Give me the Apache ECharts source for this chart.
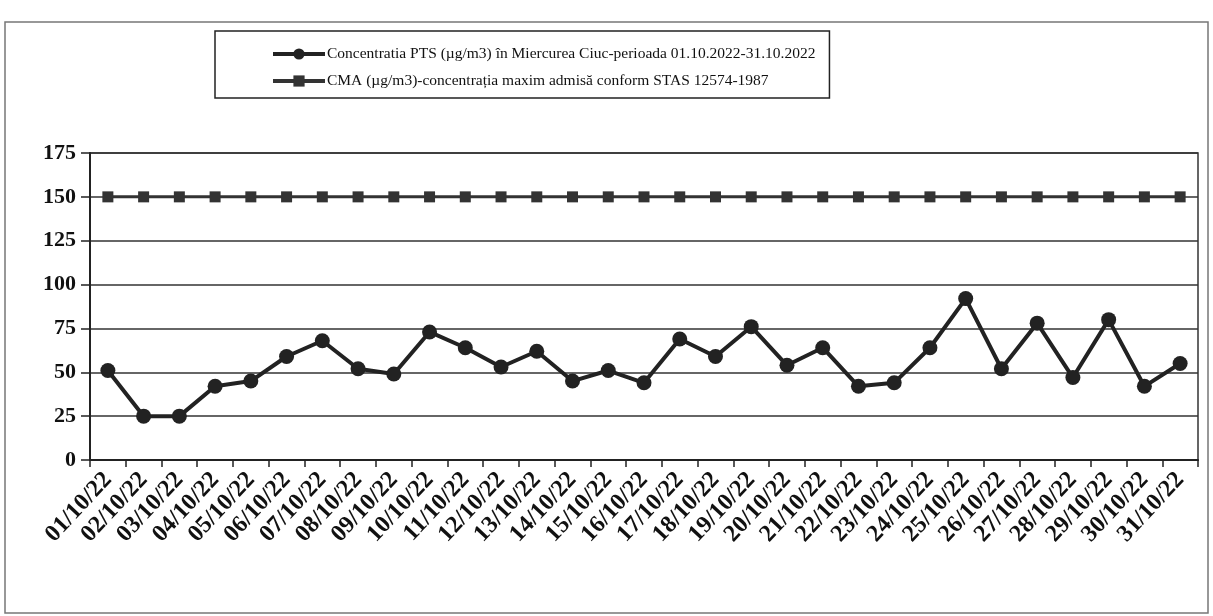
<!DOCTYPE html>
<html>
<head>
<meta charset="utf-8">
<script src="https://cdn.jsdelivr.net/npm/echarts@6/dist/echarts.min.js"></script>
<style>html,body{margin:0;padding:0;background:#fff}#c{width:1213px;height:616px}</style>
</head>
<body>
<div id="c"></div>
<script>
const categories = ["01/10/22","02/10/22","03/10/22","04/10/22","05/10/22","06/10/22","07/10/22","08/10/22","09/10/22","10/10/22","11/10/22","12/10/22","13/10/22","14/10/22","15/10/22","16/10/22","17/10/22","18/10/22","19/10/22","20/10/22","21/10/22","22/10/22","23/10/22","24/10/22","25/10/22","26/10/22","27/10/22","28/10/22","29/10/22","30/10/22","31/10/22"];
const ptsValues = [51,25,25,42,45,59,68,52,49,73,64,53,62,45,51,44,69,59,76,54,64,42,44,64,92,52,78,47,80,42,55];
const cmaValues = [150,150,150,150,150,150,150,150,150,150,150,150,150,150,150,150,150,150,150,150,150,150,150,150,150,150,150,150,150,150,150];
const yTicks = [0,25,50,75,100,125,150,175];
const seriesNames = ["Concentratia PTS (µg/m3) în Miercurea Ciuc-perioada 01.10.2022-31.10.2022","CMA (µg/m3)-concentrația maxim admisă conform STAS 12574-1987"];

const chart = echarts.init(document.getElementById('c'));
const serif = '"Liberation Serif","DejaVu Serif",serif';
chart.setOption({
  animation: false,
  backgroundColor: '#fff',
  graphic: [{
    type: 'rect', shape: {x: 5, y: 22, width: 1203, height: 591},
    style: {fill: 'none', stroke: '#777', lineWidth: 1.5}, silent: true, z: -1
  }],
  legend: {
    orient: 'vertical', left: 215, top: 31,
    padding: [15, 14, 9, 56],
    itemGap: 11, itemWidth: 52, itemHeight: 14,
    borderColor: '#222', borderWidth: 1.5,
    lineStyle: {width: 4},
    textStyle: {fontFamily: serif, fontSize: 15.5, color: '#111', padding: [0, 0, 0, -3]},
    data: seriesNames
  },
  grid: {left: 90, right: 15, top: 153, bottom: 156, containLabel: false,
    show: true, borderColor: '#333', borderWidth: 1.5},
  xAxis: {
    type: 'category', data: categories, boundaryGap: true,
    axisLine: {lineStyle: {color: '#222', width: 2}},
    axisTick: {show: true, alignWithLabel: false, length: 7, lineStyle: {color: '#222', width: 1.5}},
    axisLabel: {rotate: 47, interval: 0, fontFamily: serif, fontWeight: 'bold', fontSize: 24, color: '#111', margin: 16}
  },
  yAxis: {
    type: 'value', min: 0, max: 175, interval: 25,
    axisLine: {show: true, lineStyle: {color: '#222', width: 2}},
    axisTick: {show: true, length: 9, lineStyle: {color: '#222', width: 1.5}},
    axisLabel: {fontFamily: serif, fontWeight: 'bold', fontSize: 22, color: '#111', margin: 14,
      formatter: v => yTicks.includes(v) ? String(v) : ''},
    splitLine: {show: true, lineStyle: {color: '#333', width: 1.5}}
  },
  series: [
    {
      name: seriesNames[0], type: 'line', data: ptsValues,
      symbol: 'circle', symbolSize: 15,
      lineStyle: {color: '#222', width: 4},
      itemStyle: {color: '#222'}
    },
    {
      name: seriesNames[1], type: 'line', data: cmaValues,
      symbol: 'rect', symbolSize: 11,
      lineStyle: {color: '#333', width: 3},
      itemStyle: {color: '#333'}
    }
  ]
});
</script>
</body>
</html>
